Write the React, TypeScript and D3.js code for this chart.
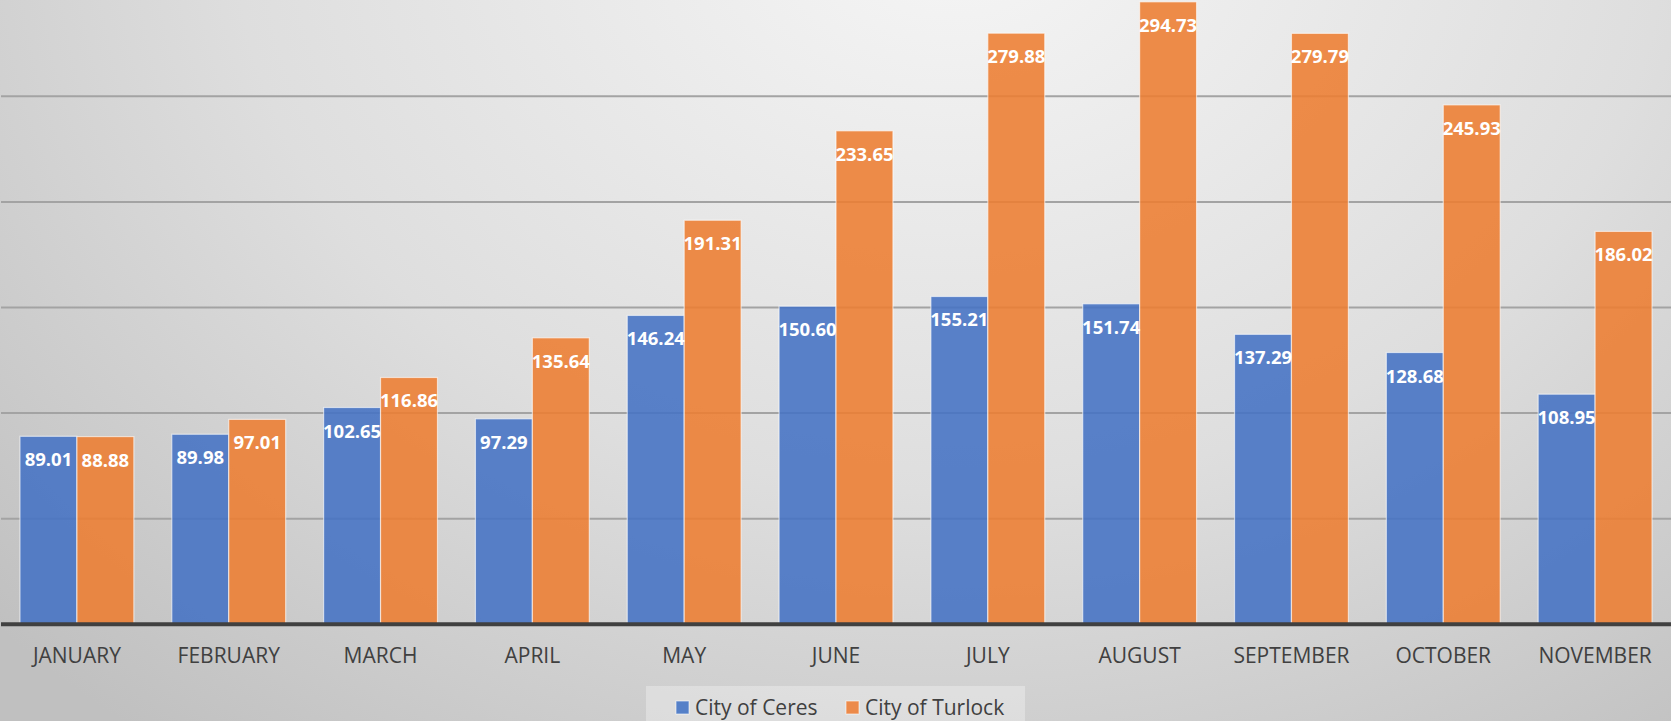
import React, { useEffect } from "react";
import * as d3 from "d3";

// monthly values
const months = [
  "JANUARY",
  "FEBRUARY",
  "MARCH",
  "APRIL",
  "MAY",
  "JUNE",
  "JULY",
  "AUGUST",
  "SEPTEMBER",
  "OCTOBER",
  "NOVEMBER",
];
const ceres = [89.01, 89.98, 102.65, 97.29, 146.24, 150.6, 155.21, 151.74, 137.29, 128.68, 108.95];
const turlock = [88.88, 97.01, 116.86, 135.64, 191.31, 233.65, 279.88, 294.73, 279.79, 245.93, 186.02];
const seriesNames = ["City of Ceres", "City of Turlock"];
const gridValues = [50, 100, 150, 200, 250];

const W = 1671;
const H = 721;
const colors = ["rgba(68,114,196,0.88)", "rgba(237,125,49,0.88)"];
const swatch = ["#5580C8", "#EC8A4A"];
const font = "'Open Sans', 'Noto Sans', sans-serif";

export default function App() {
  useEffect(() => {
    document.body.style.margin = "0";
  }, []);

  const x = d3.scaleBand<string>().domain(months).range([1, 1671]).paddingInner(0.25).paddingOuter(0.125);
  const inner = d3.scaleBand<string>().domain(seriesNames).range([0, x.bandwidth()]);
  const y = d3.scaleLinear().domain([0, 300]).range([624.3, -9.3]);
  const fmt = d3.format(".2f");
  const series = [ceres, turlock];

  return (
    <svg width={W} height={H} style={{ display: "block" }}>
      <defs>
        <radialGradient
          id="bg"
          gradientUnits="userSpaceOnUse"
          cx={950}
          cy={-80}
          r={1300}
          gradientTransform="translate(950,-80) scale(1,0.8) translate(-950,80)"
        >
          <stop offset="0" stopColor="#f6f6f6" />
          <stop offset="0.55" stopColor="#dedede" />
          <stop offset="1" stopColor="#c0c0c0" />
        </radialGradient>
      </defs>
      <rect x={0} y={0} width={W} height={H} fill="url(#bg)" />

      {/* gridlines */}
      {gridValues.map((v) => (
        <line key={v} x1={1} x2={W} y1={y(v)} y2={y(v)} stroke="#a3a3a3" strokeWidth={2} />
      ))}

      {/* bars */}
      {months.map((m, i) => (
        <g key={m} transform={`translate(${x(m)},0)`}>
          {series.map((vals, s) => (
            <rect
              key={s}
              x={inner(seriesNames[s])}
              y={y(vals[i])}
              width={inner.bandwidth()}
              height={y(0) - y(vals[i])}
              fill={colors[s]}
              stroke="rgba(255,255,255,0.6)"
              strokeWidth={1.2}
            />
          ))}
        </g>
      ))}

      {/* baseline */}
      <line x1={1} x2={W} y1={y(0)} y2={y(0)} stroke="#404040" strokeWidth={4} />

      {/* data labels */}
      {months.map((m, i) =>
        series.map((vals, s) => (
          <text
            key={`${m}-${s}`}
            x={(x(m) as number) + (inner(seriesNames[s]) as number) + inner.bandwidth() / 2}
            y={y(vals[i]) + 30}
            textAnchor="middle"
            fill="#ffffff"
            fontFamily={font}
            fontWeight={700}
            fontSize={18.5}
          >
            {fmt(vals[i])}
          </text>
        ))
      )}

      {/* category labels */}
      {months.map((m) => (
        <text
          key={m}
          x={(x(m) as number) + x.bandwidth() / 2}
          y={663}
          textAnchor="middle"
          fill="#404040"
          fontFamily={font}
          fontSize={21}
        >
          {m}
        </text>
      ))}

      {/* legend */}
      <rect x={646} y={686} width={379} height={40} fill="rgba(255,255,255,0.3)" />
      {seriesNames.map((name, s) => {
        const lx = s === 0 ? 676 : 846;
        return (
          <g key={name}>
            <rect x={lx} y={701} width={13} height={13} fill={swatch[s]} stroke="rgba(255,255,255,0.6)" />
            <text x={lx + 19} y={715} fill="#404040" fontFamily={font} fontSize={21}>
              {name}
            </text>
          </g>
        );
      })}
    </svg>
  );
}
